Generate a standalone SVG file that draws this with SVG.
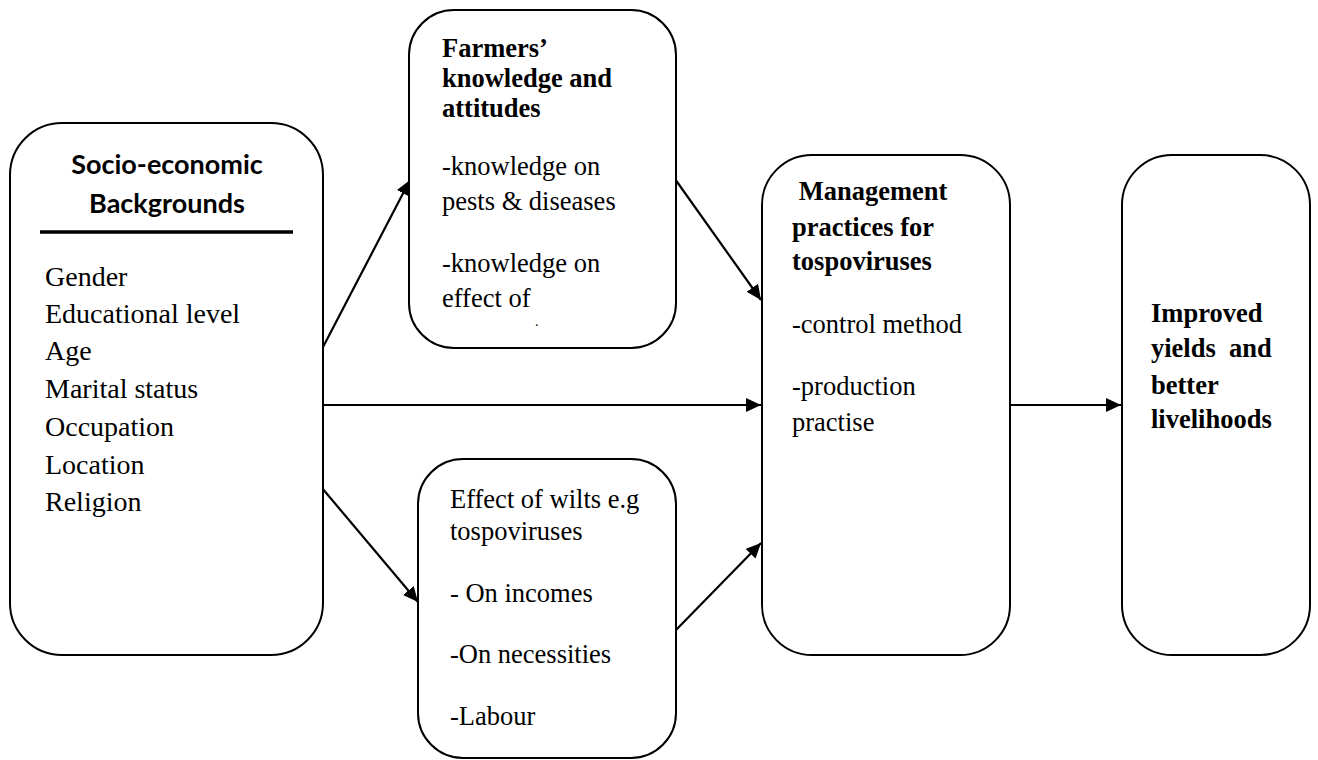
<svg xmlns="http://www.w3.org/2000/svg" width="1318" height="760" viewBox="0 0 1318 760">
<style>
.box{fill:#fff;stroke:#000;stroke-width:2}
.t{font-family:"Liberation Serif","Times New Roman",serif;font-size:26.5px;fill:#000}
.tl{font-family:"Liberation Serif","Times New Roman",serif;font-size:28px;fill:#000}
.b{font-family:"Liberation Serif","Times New Roman",serif;font-size:26.5px;font-weight:bold;fill:#000}
.h{font-family:Lato,"Open Sans",sans-serif;font-size:27px;font-weight:bold;fill:#000;text-anchor:middle}
.c{stroke:#000;stroke-width:2.2;fill:none;marker-end:url(#ah)}
</style>
<defs>
<marker id="ah" markerUnits="userSpaceOnUse" markerWidth="16" markerHeight="14" refX="15" refY="7" orient="auto">
<path d="M0,0 L15,7 L0,14 z" fill="#000"/>
</marker>
</defs>
<rect width="1318" height="760" fill="#fff"/>
<g id="connectors">
<line class="c" x1="322" y1="349" x2="410" y2="180"/>
<line class="c" x1="323" y1="405" x2="761" y2="405"/>
<line class="c" x1="322" y1="488" x2="418" y2="602"/>
<line class="c" x1="675" y1="179" x2="761" y2="300"/>
<line class="c" x1="675" y1="631" x2="761" y2="543"/>
<line class="c" x1="1010" y1="405" x2="1121" y2="405"/>
</g>
<g id="socio">
<rect class="box" x="10" y="123" width="313" height="532" rx="52"/>
<text class="h" x="167" y="174">Socio-economic</text>
<text class="h" x="167" y="213">Backgrounds</text>
<line x1="40" y1="232" x2="293" y2="232" stroke="#000" stroke-width="3.5"/>
<text class="tl" x="45"><tspan x="45" y="286">Gender</tspan><tspan x="45" y="323">Educational level</tspan><tspan x="45" y="360">Age</tspan><tspan x="45" y="398">Marital status</tspan><tspan x="45" y="436">Occupation</tspan><tspan x="45" y="474">Location</tspan><tspan x="45" y="511">Religion</tspan></text>
</g>
<g id="farmers">
<rect class="box" x="409" y="10" width="267" height="338" rx="45"/>
<text class="b"><tspan x="442" y="57">Farmers’</tspan><tspan x="442" y="87">knowledge and</tspan><tspan x="442" y="117">attitudes</tspan></text>
<text class="t"><tspan x="442" y="175">-knowledge on</tspan><tspan x="442" y="210">pests &amp; diseases</tspan><tspan x="442" y="272">-knowledge on</tspan><tspan x="442" y="307">effect of</tspan></text>
<text class="t" x="535" y="326" style="font-size:14px">.</text>
</g>
<g id="effect">
<rect class="box" x="418" y="459" width="258" height="299" rx="45"/>
<text class="t"><tspan x="450" y="508">Effect of wilts e.g</tspan><tspan x="450" y="540">tospoviruses</tspan><tspan x="450" y="602">- On incomes</tspan><tspan x="450" y="663">-On necessities</tspan><tspan x="450" y="725">-Labour</tspan></text>
</g>
<g id="management">
<rect class="box" x="762" y="155" width="248" height="500" rx="50"/>
<text class="b"><tspan x="792" y="200" xml:space="preserve"> Management</tspan><tspan x="792" y="236">practices for</tspan><tspan x="792" y="270">tospoviruses</tspan></text>
<text class="t"><tspan x="792" y="333">-control method</tspan><tspan x="792" y="395">-production</tspan><tspan x="792" y="431">practise</tspan></text>
</g>
<g id="improved">
<rect class="box" x="1122" y="155" width="188" height="500" rx="50"/>
<text class="b" xml:space="preserve"><tspan x="1151" y="322">Improved</tspan><tspan x="1151" y="357">yields  and</tspan><tspan x="1151" y="394">better</tspan><tspan x="1151" y="428">livelihoods</tspan></text>
</g>
</svg>
